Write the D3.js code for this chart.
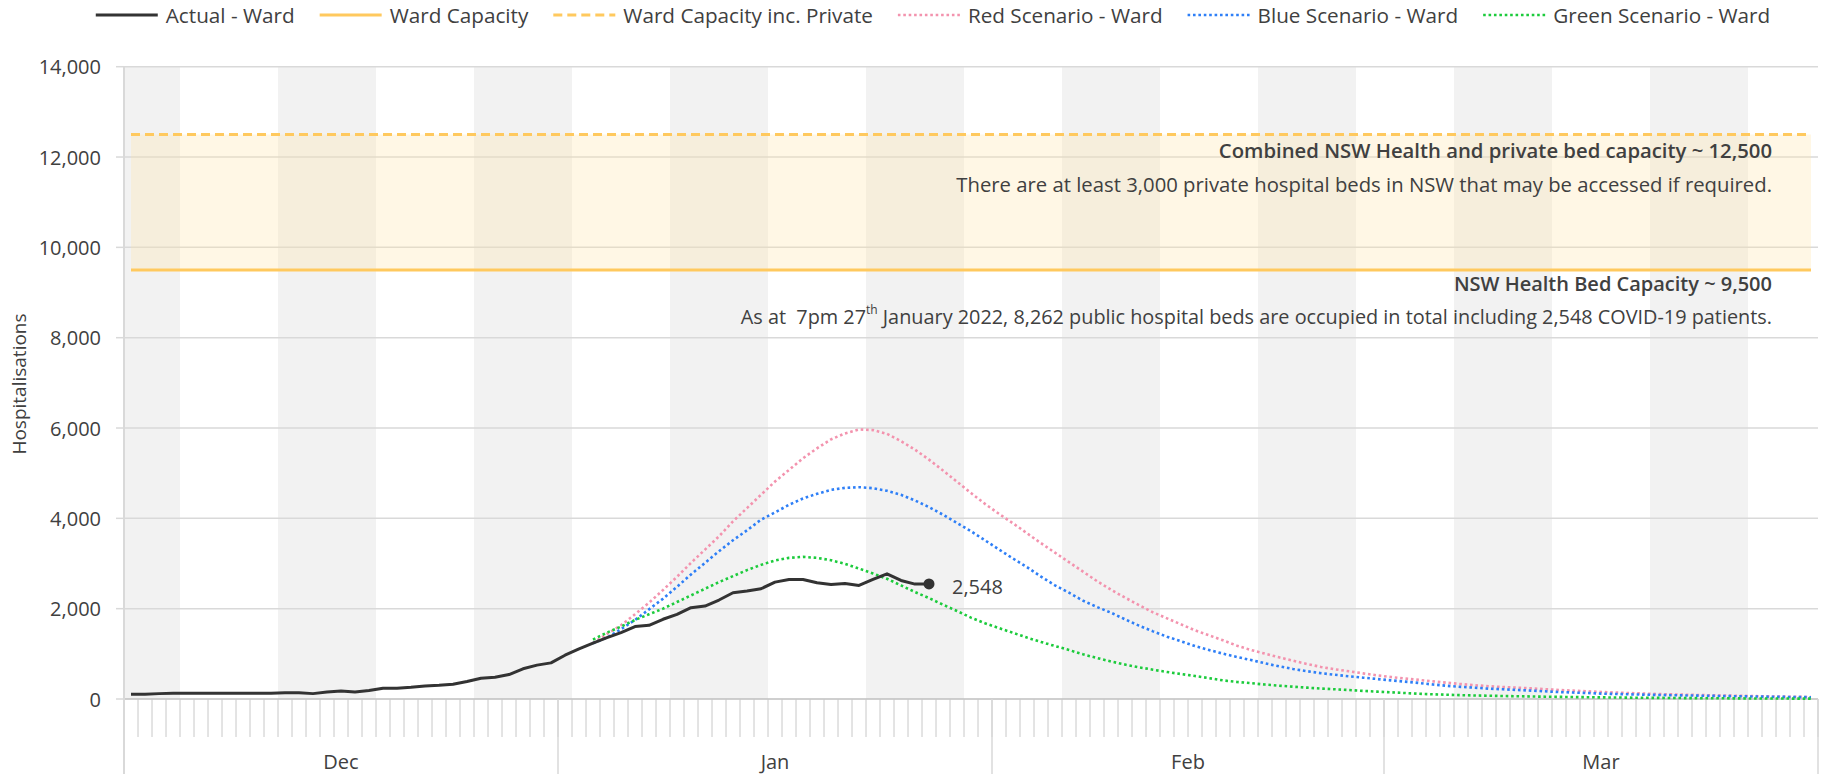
<!DOCTYPE html>
<html>
<head>
<meta charset="utf-8">
<script src="https://cdn.jsdelivr.net/npm/d3@7"></script>
<style>
  body { margin: 0; background: #fff; }
  svg { display: block; font-family: "Open Sans", "Noto Sans", sans-serif; }
</style>
</head>
<body>
<svg id="chart" width="1822" height="777"></svg>
<script>
// --- data ---
const firstDay = new Date(2021, 11, 1);
const lastDay = new Date(2022, 2, 31);
const monthLabels = ["Dec", "Jan", "Feb", "Mar"];
const yTicks = [0, 2000, 4000, 6000, 8000, 10000, 12000, 14000];

// Actual - Ward, daily from 1 Dec 2021 to 27 Jan 2022
const actualWard = [
  104, 104, 119, 126, 126, 126, 126, 126, 126, 126,
  126, 141, 141, 119, 156, 178, 156, 186, 238, 238,
  260, 290, 305, 327, 386, 461, 483, 542, 669, 750,
  800, 970, 1110, 1235, 1360, 1471, 1603, 1632, 1765, 1875,
  2022, 2059, 2191, 2353, 2390, 2441, 2588, 2647, 2647, 2573,
  2537, 2559, 2515, 2647, 2772, 2625, 2544, 2548
];

// scenarios, daily from 3 Jan 2022 to 31 Mar 2022
const scenarioStart = new Date(2022, 0, 3);
const redScenario = [
  1240, 1440, 1632, 1875, 2132, 2412, 2706, 3014, 3308, 3602,
  3933, 4227, 4521, 4815, 5072, 5330, 5550, 5749, 5881, 5969,
  5954, 5870, 5710, 5520, 5300, 5060, 4810, 4560, 4320, 4100,
  3890, 3670, 3450, 3240, 3030, 2820, 2610, 2420, 2245, 2080,
  1919, 1786, 1653, 1520, 1410, 1299, 1181, 1085, 1004, 923,
  849, 775, 710, 657, 613, 568, 524, 487, 452, 423,
  390, 360, 330, 305, 283, 265, 250, 235, 217, 200,
  185, 170, 156, 143, 132, 121, 111, 102, 95, 88,
  82, 76, 70, 64, 58, 53, 48, 44
];
const blueScenario = [
  1236, 1360, 1544, 1750, 1985, 2220, 2485, 2757, 3014, 3272,
  3514, 3735, 3970, 4132, 4300, 4440, 4543, 4631, 4675, 4690,
  4668, 4609, 4521, 4396, 4249, 4080, 3896, 3713, 3514, 3310,
  3110, 2920, 2710, 2517, 2354, 2177, 2037, 1911, 1764, 1624,
  1498, 1380, 1277, 1173, 1085, 1004, 930, 863, 790, 723,
  665, 615, 572, 536, 503, 472, 443, 413, 384, 355,
  320, 292, 268, 250, 229, 215, 200, 185, 170, 155,
  143, 133, 120, 111, 104, 96, 90, 84, 79, 74,
  69, 64, 60, 55, 51, 47, 43, 40
];
const greenScenario = [
  1315, 1471, 1603, 1750, 1875, 2000, 2147, 2294, 2441, 2588,
  2720, 2853, 2970, 3066, 3125, 3147, 3125, 3073, 2992, 2889,
  2779, 2662, 2515, 2368, 2235, 2088, 1949, 1802, 1677, 1570,
  1465, 1360, 1263, 1173, 1085, 989, 908, 830, 762, 701,
  649, 598, 553, 509, 462, 412, 378, 350, 320, 295,
  273, 251, 231, 215, 199, 180, 163, 148, 132, 116,
  104, 94, 85, 78, 72, 66, 61, 56, 51, 47,
  43, 40, 36, 33, 30, 27, 25, 22, 20, 18,
  16, 15, 13, 12, 11, 10, 9, 8
];

const wardCapacity = 9500;
const wardCapacityPrivate = 12500;

const legendItems = [
  { name: "Actual - Ward", color: "#333333", dash: null, width: 3 },
  { name: "Ward Capacity", color: "#ffc95e", dash: null, width: 3 },
  { name: "Ward Capacity inc. Private", color: "#ffc95e", dash: "9,5", width: 3 },
  { name: "Red Scenario - Ward", color: "#f393ae", dash: "2.6,2.8", width: 2.6 },
  { name: "Blue Scenario - Ward", color: "#2e7ff7", dash: "2.6,2.8", width: 2.6 },
  { name: "Green Scenario - Ward", color: "#1ccb3c", dash: "2.6,2.8", width: 2.6 }
];

// --- layout ---
const svg = d3.select("#chart");
const plot = { left: 124, right: 1818, top: 66.7, bottom: 699 };
const textColor = "#404040";
const gridColor = "#d9d9d9";

const days = d3.timeDay.range(firstDay, d3.timeDay.offset(lastDay, 1));
const x = d3.scaleBand().domain(days.map(d => +d)).range([plot.left, plot.right]);
const bw = x.bandwidth();
const cx = d => x(+d) + bw / 2;
const y = d3.scaleLinear().domain([0, 14000]).range([plot.bottom, plot.top]);

const series = (start, values) => values.map((v, i) => ({ date: d3.timeDay.offset(start, i), value: v }));
const actualData = series(firstDay, actualWard);
const redData = series(scenarioStart, redScenario);
const blueData = series(scenarioStart, blueScenario);
const greenData = series(scenarioStart, greenScenario);

// alternating weekly shading (weeks start on Sunday)
const weekStart = d3.timeSunday.floor(firstDay);
const weeks = d3.groups(days, d => d3.timeSunday.count(weekStart, d));
svg.append("g").selectAll("rect")
    .data(weeks.filter(w => w[0] % 2 === 0))
    .join("rect")
    .attr("x", w => x(+w[1][0]))
    .attr("width", w => x(+w[1][w[1].length - 1]) + bw - x(+w[1][0]))
    .attr("y", plot.top)
    .attr("height", plot.bottom - plot.top)
    .attr("fill", "#f2f2f2");

// gridlines
svg.append("g").selectAll("line")
    .data(yTicks.filter(t => t > 0))
    .join("line")
    .attr("x1", plot.left).attr("x2", plot.right)
    .attr("y1", d => y(d)).attr("y2", d => y(d))
    .attr("stroke", gridColor).attr("stroke-width", 1.5);

// capacity band
const capDays = days.map(d => ({ date: d }));
svg.append("path")
    .datum(capDays)
    .attr("d", d3.area().x(d => cx(d.date)).y0(y(wardCapacity)).y1(y(wardCapacityPrivate)))
    .attr("fill", "#ffe6a8").attr("opacity", 0.3);

const capLine = v => d3.line().x(d => cx(d.date)).y(() => y(v));
svg.append("path").datum(capDays).attr("d", capLine(wardCapacity))
    .attr("fill", "none").attr("stroke", legendItems[1].color).attr("stroke-width", 3);
svg.append("path").datum(capDays).attr("d", capLine(wardCapacityPrivate))
    .attr("fill", "none").attr("stroke", legendItems[2].color).attr("stroke-width", 3)
    .attr("stroke-dasharray", legendItems[2].dash);

// axes lines and ticks
const axisG = svg.append("g");
axisG.append("line")
    .attr("x1", plot.left).attr("x2", plot.right)
    .attr("y1", plot.bottom).attr("y2", plot.bottom)
    .attr("stroke", "#bfbfbf").attr("stroke-width", 1.5);
axisG.selectAll("line.ytick")
    .data(yTicks)
    .join("line").attr("class", "ytick")
    .attr("x1", plot.left - 8).attr("x2", plot.left)
    .attr("y1", d => y(d)).attr("y2", d => y(d))
    .attr("stroke", gridColor).attr("stroke-width", 1.5);
axisG.selectAll("text.ylab")
    .data(yTicks)
    .join("text").attr("class", "ylab")
    .attr("x", plot.left - 23).attr("y", d => y(d))
    .attr("text-anchor", "end").attr("dominant-baseline", "central")
    .attr("font-size", 20).attr("fill", textColor)
    .text(d3.format(","));

// day ticks
const dayEdges = days.map(d => x(+d)).concat([plot.right]);
axisG.selectAll("line.dtick")
    .data(dayEdges.slice(1))
    .join("line").attr("class", "dtick")
    .attr("x1", d => d).attr("x2", d => d)
    .attr("y1", plot.bottom).attr("y2", plot.bottom + 38)
    .attr("stroke", "#c8c8c8").attr("stroke-width", 1);

// month separators and labels
const monthStarts = d3.timeMonth.range(firstDay, d3.timeDay.offset(lastDay, 1));
const monthEdges = monthStarts.map(d => x(+d)).concat([plot.right]);
axisG.append("line")
    .attr("x1", plot.left).attr("x2", plot.left)
    .attr("y1", plot.top).attr("y2", 774)
    .attr("stroke", gridColor).attr("stroke-width", 2);
axisG.selectAll("line.msep")
    .data(monthEdges.slice(1))
    .join("line").attr("class", "msep")
    .attr("x1", d => d).attr("x2", d => d)
    .attr("y1", plot.bottom).attr("y2", 774)
    .attr("stroke", gridColor).attr("stroke-width", 1.5);
axisG.selectAll("text.mlab")
    .data(monthLabels)
    .join("text").attr("class", "mlab")
    .attr("x", (d, i) => (monthEdges[i] + monthEdges[i + 1]) / 2)
    .attr("y", 761)
    .attr("text-anchor", "middle").attr("dominant-baseline", "central")
    .attr("font-size", 20).attr("fill", textColor)
    .text(d => d);

// y axis title
svg.append("text")
    .attr("transform", `translate(19, 384) rotate(-90)`)
    .attr("text-anchor", "middle").attr("dominant-baseline", "central")
    .attr("font-size", 19).attr("fill", textColor)
    .text("Hospitalisations");

// scenario lines
const line = d3.line().x(d => cx(d.date)).y(d => y(d.value));
[[redData, legendItems[3]], [blueData, legendItems[4]], [greenData, legendItems[5]]].forEach(([data, s]) => {
  svg.append("path").datum(data)
      .attr("d", line)
      .attr("fill", "none").attr("stroke", s.color)
      .attr("stroke-width", s.width).attr("stroke-dasharray", s.dash);
});

// actual line
svg.append("path").datum(actualData)
    .attr("d", line)
    .attr("fill", "none").attr("stroke", legendItems[0].color)
    .attr("stroke-width", 3).attr("stroke-linejoin", "round");
const last = actualData[actualData.length - 1];
svg.append("circle")
    .attr("cx", cx(last.date)).attr("cy", y(last.value)).attr("r", 5.5)
    .attr("fill", legendItems[0].color);
svg.append("text")
    .attr("x", cx(last.date) + 23).attr("y", y(last.value) + 3)
    .attr("dominant-baseline", "central")
    .attr("font-size", 20).attr("fill", textColor)
    .text(d3.format(",")(last.value));

// annotations
const noteX = 1772;
const notes = svg.append("g").attr("text-anchor", "end").attr("fill", textColor);
notes.append("text").attr("x", noteX).attr("y", 150).attr("dominant-baseline", "central")
    .attr("font-size", 20.3).attr("font-weight", 600)
    .text("Combined NSW Health and private bed capacity ~ 12,500");
notes.append("text").attr("x", noteX).attr("y", 184).attr("dominant-baseline", "central")
    .attr("font-size", 20.3)
    .text("There are at least 3,000 private hospital beds in NSW that may be accessed if required.");
notes.append("text").attr("x", noteX).attr("y", 283).attr("dominant-baseline", "central")
    .attr("font-size", 20).attr("font-weight", 600)
    .text("NSW Health Bed Capacity ~ 9,500");
const asAt = notes.append("text").attr("x", noteX).attr("y", 316).attr("dominant-baseline", "central")
    .attr("font-size", 19.85).attr("xml:space", "preserve");
asAt.append("tspan").text("As at  7pm 27");
asAt.append("tspan").attr("font-size", 12).attr("dy", -7).text("th");
asAt.append("tspan").attr("dy", 7).text(" January 2022, 8,262 public hospital beds are occupied in total including 2,548 COVID-19 patients.");

// legend
const legend = svg.append("g");
let lx = 0;
const items = legend.selectAll("g").data(legendItems).join("g");
items.append("line")
    .attr("x1", 0).attr("x2", 62).attr("y1", 0).attr("y2", 0)
    .attr("stroke", d => d.color).attr("stroke-width", d => d.width)
    .attr("stroke-dasharray", d => d.dash);
items.append("text")
    .attr("x", 70).attr("y", 0).attr("dominant-baseline", "central")
    .attr("font-size", 20.7).attr("fill", textColor)
    .text(d => d.name);
items.each(function () {
  const w = 70 + d3.select(this).select("text").node().getComputedTextLength();
  d3.select(this).attr("transform", `translate(${lx},0)`);
  lx += w + 25;
});
const legendWidth = lx - 25;
legend.attr("transform", `translate(${933 - legendWidth / 2}, 15)`);
</script>
</body>
</html>
